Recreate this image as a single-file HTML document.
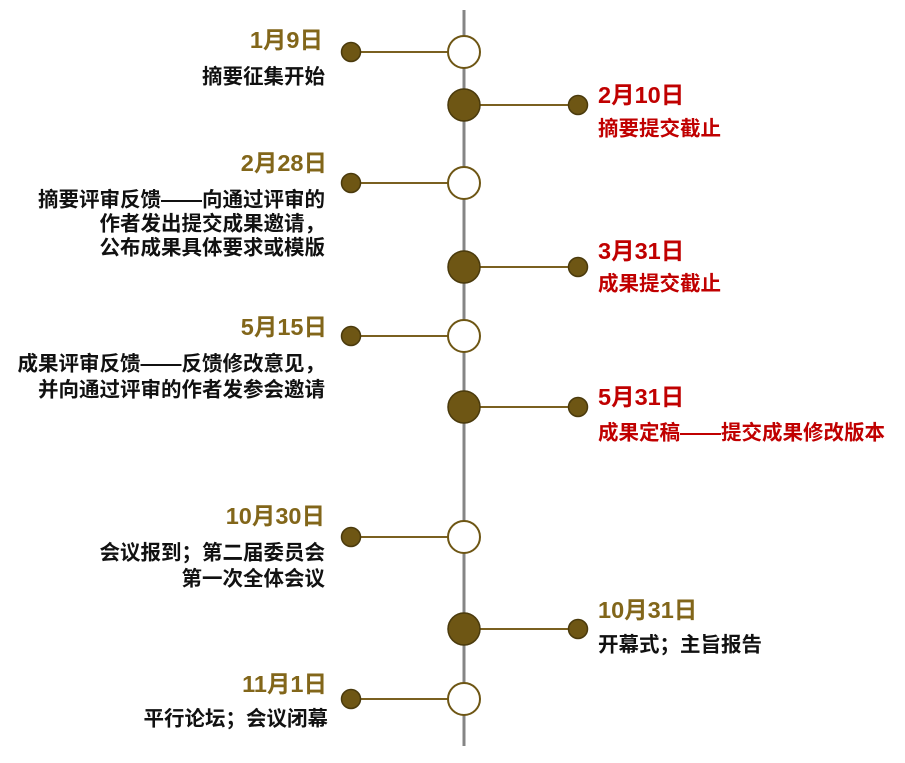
<!DOCTYPE html>
<html><head><meta charset="utf-8"><style>
html,body{margin:0;padding:0;background:#fff;}
svg{display:block;}
text{font-family:"Liberation Sans","Noto Sans CJK SC",sans-serif;font-weight:bold;dominant-baseline:middle;}
.g{fill:#82661a;font-size:23.5px;}
.r{fill:#c00000;font-size:23.5px;}
.k{fill:#111;font-size:20.5px;}
.rk{fill:#c00000;font-size:20.5px;}
.L{text-anchor:end;}
</style></head><body>
<svg width="905" height="763" viewBox="0 0 905 763">
<line x1="464" y1="10" x2="464" y2="746" stroke="#858585" stroke-width="3"/>
<g stroke="#7a6020" stroke-width="2">
<line x1="351" y1="52" x2="450" y2="52"/>
<line x1="464" y1="105" x2="578" y2="105"/>
<line x1="351" y1="183" x2="450" y2="183"/>
<line x1="464" y1="267" x2="578" y2="267"/>
<line x1="351" y1="336" x2="450" y2="336"/>
<line x1="464" y1="407" x2="578" y2="407"/>
<line x1="351" y1="537" x2="450" y2="537"/>
<line x1="464" y1="629" x2="578" y2="629"/>
<line x1="351" y1="699" x2="450" y2="699"/>
</g>
<g fill="#fff" stroke="#6e5614" stroke-width="2">
<circle cx="464" cy="52" r="16"/>
<circle cx="464" cy="183" r="16"/>
<circle cx="464" cy="336" r="16"/>
<circle cx="464" cy="537" r="16"/>
<circle cx="464" cy="699" r="16"/>
</g>
<g fill="#6e5614" stroke="#4a3a0c" stroke-width="1.5">
<circle cx="464" cy="105" r="16"/>
<circle cx="464" cy="267" r="16"/>
<circle cx="464" cy="407" r="16"/>
<circle cx="464" cy="629" r="16"/>
<circle cx="351" cy="52" r="9.5"/>
<circle cx="351" cy="183" r="9.5"/>
<circle cx="351" cy="336" r="9.5"/>
<circle cx="351" cy="537" r="9.5"/>
<circle cx="351" cy="699" r="9.5"/>
<circle cx="578" cy="105" r="9.5"/>
<circle cx="578" cy="267" r="9.5"/>
<circle cx="578" cy="407" r="9.5"/>
<circle cx="578" cy="629" r="9.5"/>
</g>
<text class="g L" x="323" y="42">1月9日</text>
<text class="k L" x="325" y="78">摘要征集开始</text>
<text class="r" x="598" y="97">2月10日</text>
<text class="rk" x="598" y="130">摘要提交截止</text>
<text class="g L" x="327" y="165">2月28日</text>
<text class="k L" x="325" y="201">摘要评审反馈——向通过评审的</text>
<text class="k L" x="325" y="225">作者发出提交成果邀请，</text>
<text class="k L" x="325" y="249">公布成果具体要求或模版</text>
<text class="r" x="598" y="253">3月31日</text>
<text class="rk" x="598" y="285">成果提交截止</text>
<text class="g L" x="327" y="329">5月15日</text>
<text class="k L" x="325" y="365">成果评审反馈——反馈修改意见，</text>
<text class="k L" x="325" y="391">并向通过评审的作者发参会邀请</text>
<text class="r" x="598" y="399">5月31日</text>
<text class="rk" x="598" y="434">成果定稿——提交成果修改版本</text>
<text class="g L" x="325" y="518">10月30日</text>
<text class="k L" x="325" y="554">会议报到；第二届委员会</text>
<text class="k L" x="325" y="580">第一次全体会议</text>
<text class="g" x="598" y="612">10月31日</text>
<text class="k" x="598" y="646">开幕式；主旨报告</text>
<text class="g L" x="327" y="686">11月1日</text>
<text class="k L" x="328" y="720">平行论坛；会议闭幕</text>
</svg>
</body></html>
